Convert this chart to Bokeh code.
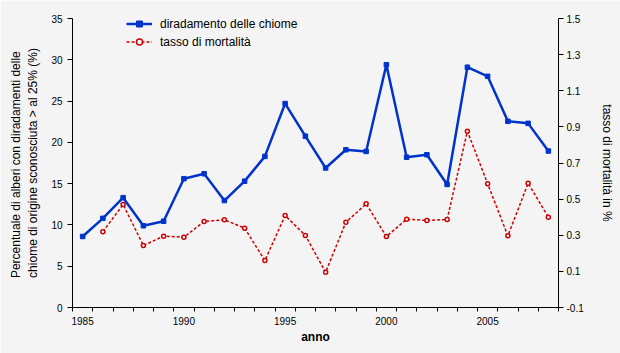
from bokeh.plotting import figure
from bokeh.models import Range1d, LinearAxis, FixedTicker, PrintfTickFormatter, Legend, LegendItem
from bokeh.embed import file_html
from bokeh.resources import INLINE

years_blue = list(range(1985, 2009))
diradamento = [8.6, 10.8, 13.3, 9.9, 10.45, 15.6, 16.2, 12.95, 15.3, 18.3, 24.7, 20.75,
               16.9, 19.1, 18.9, 29.4, 18.2, 18.5, 14.9, 29.1, 28.0, 22.55, 22.3, 18.95]
years_red = list(range(1986, 2009))
mortalita = [0.32, 0.47, 0.243, 0.295, 0.289, 0.376, 0.386, 0.339, 0.16, 0.409, 0.299,
             0.095, 0.372, 0.474, 0.293, 0.389, 0.382, 0.387, 0.876, 0.585, 0.297, 0.588, 0.40]

x_labels = [1985, 1990, 1995, 2000, 2005]
left_ticks = [0, 5, 10, 15, 20, 25, 30, 35]
right_ticks = [-0.1, 0.1, 0.3, 0.5, 0.7, 0.9, 1.1, 1.3, 1.5]

FONT = "Liberation Sans"
BG = "#f4f4f4"
BLUE = "#0033cc"
RED = "#cc0000"

p = figure(width=620, height=353, output_backend="svg", toolbar_location=None,
           x_range=Range1d(1984.5, 2008.5), y_range=Range1d(0, 35),
           min_border_left=72, min_border_right=62, min_border_top=18, min_border_bottom=46)
p.background_fill_color = BG
p.border_fill_color = BG
p.outline_line_color = None
p.xgrid.visible = False
p.ygrid.visible = False
p.extra_y_ranges = {"mort": Range1d(-0.1, 1.5)}

# x axis
xa = p.xaxis[0]
xa.ticker = FixedTicker(ticks=x_labels, minor_ticks=[y + 0.5 for y in range(1984, 2009)])
xa.major_tick_out = 4
xa.major_tick_in = 0
xa.major_tick_line_alpha = 0
xa.minor_tick_out = 4
xa.minor_tick_in = 0
xa.major_label_standoff = 5
xa.axis_label = "anno"
xa.axis_label_text_font_style = "bold"
xa.axis_label_text_font_size = "12px"
xa.axis_label_standoff = 2

# left axis
ya = p.yaxis[0]
ya.ticker = FixedTicker(ticks=left_ticks)
ya.major_tick_out = 5
ya.major_tick_in = 0
ya.minor_tick_out = 0
ya.minor_tick_in = 0
ya.major_label_standoff = 5
ya.axis_label = "Percentuale di alberi con diradamenti  delle\nchiome di origine sconosciuta > al 25% (%)"
ya.axis_label_text_font_style = "normal"
ya.axis_label_text_font_size = "12px"
ya.axis_label_text_line_height = 1.25
ya.axis_label_standoff = 8

# right axis
ra = LinearAxis(y_range_name="mort", ticker=FixedTicker(ticks=right_ticks),
                formatter=PrintfTickFormatter(format="%.1f"))
ra.major_tick_out = 5
ra.major_tick_in = 0
ra.minor_tick_out = 0
ra.minor_tick_in = 0
ra.major_label_standoff = 3
ra.axis_label = "tasso di mortalità in %"
ra.axis_label_text_font_style = "normal"
ra.axis_label_text_font_size = "12px"
ra.axis_label_standoff = 13
p.add_layout(ra, "right")

for ax in [xa, ya, ra]:
    ax.axis_line_color = "black"
    ax.major_tick_line_color = "black"
    ax.minor_tick_line_color = "black"
    ax.major_label_text_font = FONT
    ax.major_label_text_font_size = "10px"
    ax.major_label_text_color = "black"
    ax.axis_label_text_font = FONT
    ax.axis_label_text_color = "black"

l1 = p.line(years_blue, diradamento, line_color=BLUE, line_width=2.5)
m1 = p.scatter(years_blue, diradamento, marker="square", size=4.5, fill_color=BLUE, line_color=BLUE)
l2 = p.line(years_red, mortalita, y_range_name="mort", line_color=RED, line_width=1.5, line_dash="3 2")
m2 = p.scatter(years_red, mortalita, y_range_name="mort", marker="circle", size=4,
               fill_color="white", line_color=RED, line_width=1.5)

legend = Legend(items=[LegendItem(label="diradamento delle chiome", renderers=[l1, m1]),
                       LegendItem(label="tasso di mortalità", renderers=[l2, m2])],
                location=(54, 258), padding=0, margin=0, spacing=3,
                glyph_height=15, label_height=15, glyph_width=26, label_standoff=8,
                border_line_color=None, background_fill_alpha=0,
                label_text_font=FONT, label_text_font_size="12px", label_text_color="black")
p.add_layout(legend, "center")

open("out.html", "w").write(file_html(p, INLINE))
